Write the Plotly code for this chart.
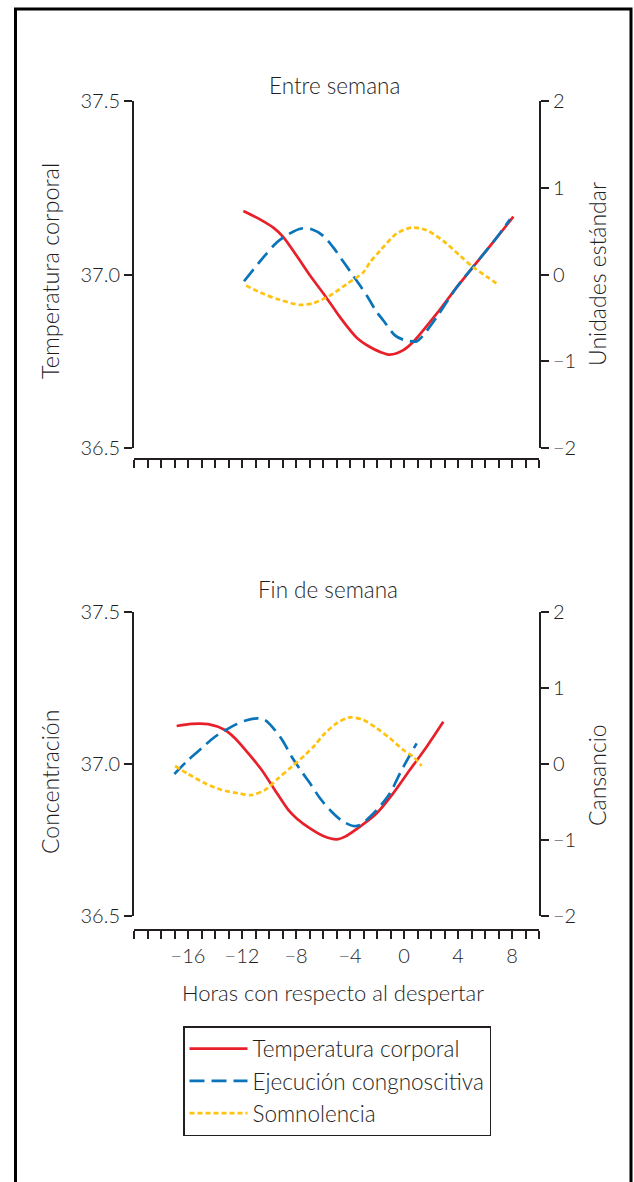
import plotly.graph_objects as go

# ---------------- data ----------------
hour_ticks = list(range(-20, 11))
hour_labels = ["−16", "−12", "−8", "−4", "0", "4", "8"]
hour_label_vals = [-16, -12, -8, -4, 0, 4, 8]
temp_ticks = [36.5, 37.0, 37.5]
temp_labels = ["36.5", "37.0", "37.5"]
unit_ticks = [-2, -1, 0, 1, 2]

series_names = ["Temperatura corporal", "Ejecución congnoscitiva", "Somnolencia"]

# Entre semana (weekday)
top_temp_h = [-11.9, -10.67, -9.68, -8.94, -7.95, -6.96, -5.85, -4.74, -3.50, -2.52, -1.78, -1.04, -0.05, 0.69, 2.42, 3.90, 5.39, 6.87, 8.10]
top_temp = [37.183, 37.159, 37.135, 37.108, 37.054, 36.997, 36.939, 36.877, 36.818, 36.791, 36.777, 36.769, 36.782, 36.806, 36.887, 36.963, 37.035, 37.106, 37.167]

top_cog_h = [-11.85, -10.42, -9.43, -8.57, -7.58, -6.84, -5.98, -5.24, -4.37, -3.76, -2.76, -2.02, -1.53, -0.67, -0.05, 0.94, 1.31, 2.42, 3.90, 5.39, 6.87, 7.85]
top_cog = [-0.078, 0.197, 0.369, 0.464, 0.530, 0.521, 0.445, 0.312, 0.120, -0.014, -0.243, -0.433, -0.530, -0.702, -0.752, -0.771, -0.721, -0.492, -0.147, 0.140, 0.426, 0.636]

top_sleep_h = [-11.70, -10.42, -9.19, -7.70, -6.72, -5.48, -4.24, -3.01, -2.52, -1.78, -0.54, 0.57, 1.68, 2.91, 4.15, 5.13, 6.13, 6.99]
top_sleep = [-0.128, -0.223, -0.292, -0.350, -0.330, -0.243, -0.109, 0.025, 0.140, 0.273, 0.472, 0.541, 0.510, 0.387, 0.216, 0.083, -0.025, -0.117]

# Fin de semana (weekend)
bot_temp_h = [-16.84, -15.73, -14.50, -13.26, -12.52, -11.53, -10.54, -9.56, -8.57, -7.95, -6.96, -5.98, -4.99, -4.37, -3.26, -2.02, -0.79, 0.44, 1.68, 2.91]
bot_temp = [37.125, 37.132, 37.131, 37.112, 37.085, 37.035, 36.980, 36.914, 36.849, 36.821, 36.788, 36.763, 36.752, 36.761, 36.794, 36.838, 36.904, 36.981, 37.057, 37.139]

bot_cog_h = [-17.01, -15.98, -14.99, -14.00, -12.76, -11.78, -10.79, -10.30, -9.56, -8.94, -8.32, -7.58, -6.96, -6.22, -5.36, -4.61, -3.76, -3.26, -2.02, -1.04, -0.30, 0.44, 0.94]
bot_cog = [-0.132, 0.053, 0.207, 0.359, 0.491, 0.570, 0.601, 0.579, 0.447, 0.293, 0.096, -0.101, -0.254, -0.451, -0.628, -0.746, -0.816, -0.803, -0.605, -0.386, -0.122, 0.118, 0.272]

bot_sleep_h = [-16.96, -15.98, -14.74, -13.50, -12.27, -11.28, -10.30, -9.31, -8.32, -7.33, -6.59, -5.98, -4.99, -4.00, -3.01, -2.02, -1.04, -0.05, 0.69, 1.31]
bot_sleep = [-0.026, -0.132, -0.254, -0.342, -0.386, -0.408, -0.342, -0.188, -0.036, 0.118, 0.250, 0.382, 0.536, 0.614, 0.579, 0.470, 0.338, 0.184, 0.096, -0.026]

# ---------------- styling ----------------
W, H = 634, 1182
FONT = "Lato"
TXT = "#1e1e1e"
AX = "#231f20"
RED = "#e8202a"
BLUE = "#0a74ba"
YEL = "#ffc20e"


def px_x(p):
    return p / W


def px_y(p):
    return 1 - p / H


fig = go.Figure()

styles = [
    dict(color=RED, width=2.7, dash="solid"),
    dict(color=BLUE, width=2.7, dash="15px,7px"),
    dict(color=YEL, width=2.7, dash="5px,3px"),
]

panels = [
    ("x", "y", "y2", top_temp_h, top_temp, top_cog_h, top_cog, top_sleep_h, top_sleep, True),
    ("x2", "y3", "y4", bot_temp_h, bot_temp, bot_cog_h, bot_cog, bot_sleep_h, bot_sleep, False),
]

for xa, ya1, ya2, th, tv, ch, cv, sh, sv, leg in panels:
    fig.add_trace(go.Scatter(x=th, y=tv, xaxis=xa, yaxis=ya1, mode="lines",
                             line=dict(shape="spline", smoothing=0.8, **styles[0]),
                             name=series_names[0], showlegend=leg, legendrank=1))
    fig.add_trace(go.Scatter(x=ch, y=cv, xaxis=xa, yaxis=ya2, mode="lines",
                             line=dict(shape="spline", smoothing=0.8, **styles[1]),
                             name=series_names[1], showlegend=leg, legendrank=2))
    fig.add_trace(go.Scatter(x=sh, y=sv, xaxis=xa, yaxis=ya2, mode="lines",
                             line=dict(shape="spline", smoothing=0.8, **styles[2]),
                             name=series_names[2], showlegend=leg, legendrank=3))

xdom = [px_x(134), px_x(539)]
top_dom = [px_y(448), px_y(101)]
bot_dom = [px_y(916), px_y(612)]

tick_font = dict(family=FONT, size=20, color=TXT, weight=300)
common_x = dict(range=[-20, 10], domain=xdom, showgrid=False, zeroline=False,
                showline=True, linecolor=AX, linewidth=2, ticks="outside",
                ticklen=8, tickwidth=2, tickcolor=AX, tickfont=tick_font,
                tickmode="array", tickvals=hour_ticks, anchor="free",
                fixedrange=True, automargin=False)

lab_map = dict(zip(hour_label_vals, hour_labels))
bottom_text = [lab_map.get(v, "") for v in hour_ticks]

common_y = dict(showgrid=False, zeroline=False, showline=True, linecolor=AX, linewidth=2,
                ticks="outside", ticklen=8, tickwidth=2, tickcolor=AX, tickmode="array",
                tickfont=tick_font, automargin=False, fixedrange=True)

fig.update_layout(
    xaxis=dict(**common_x, position=px_y(459), showticklabels=False),
    xaxis2=dict(**common_x, position=px_y(930), ticktext=bottom_text, showticklabels=True),
    yaxis=dict(**common_y, domain=top_dom, range=[36.5, 37.5], anchor="x",
               tickvals=temp_ticks, ticktext=temp_labels),
    yaxis2=dict(**common_y, domain=top_dom, range=[-2, 2], anchor="x", overlaying="y",
                side="right", tickvals=unit_ticks),
    yaxis3=dict(**common_y, domain=bot_dom, range=[36.5, 37.5], anchor="x2",
                tickvals=temp_ticks, ticktext=temp_labels),
    yaxis4=dict(**common_y, domain=bot_dom, range=[-2, 2], anchor="x2", overlaying="y3",
                side="right", tickvals=unit_ticks),
)

annotations = [
    dict(text="Entre semana", x=px_x(334), y=px_y(86), size=22.5),
    dict(text="Fin de semana", x=px_x(328), y=px_y(589), size=22.5),
    dict(text="Horas con respecto al despertar", x=px_x(333), y=px_y(992), size=22),
    dict(text="Temperatura corporal", x=px_x(50), y=px_y(271), textangle=-90, size=23.5),
    dict(text="Unidades estándar", x=px_x(597), y=px_y(274), textangle=-90, size=23),
    dict(text="Concentración", x=px_x(50), y=px_y(782), textangle=-90, size=23),
    dict(text="Cansancio", x=px_x(597), y=px_y(775), textangle=-90, size=23),
]
for a in annotations:
    s = a.pop("size")
    a.update(xref="paper", yref="paper", showarrow=False,
             font=dict(family=FONT, size=s, color=TXT, weight=300),
             xanchor="center", yanchor="middle")

fig.update_layout(
    annotations=annotations,
    width=W, height=H, autosize=False,
    margin=dict(l=0, r=0, t=0, b=0, pad=0),
    paper_bgcolor="white", plot_bgcolor="white",
    font=dict(family=FONT, color=TXT, weight=300),
    showlegend=True,
    legend=dict(x=px_x(183), y=px_y(1026), xanchor="left", yanchor="top",
                bordercolor=AX, borderwidth=1.5, bgcolor="white",
                font=dict(family=FONT, size=22.5, color=TXT, weight=300),
                tracegroupgap=0, itemwidth=58, traceorder="normal"),
    shapes=[dict(type="rect", xref="paper", yref="paper",
                 x0=px_x(15.5), x1=px_x(631), y0=px_y(1195), y1=px_y(9),
                 line=dict(color="black", width=3), fillcolor="rgba(0,0,0,0)",
                 layer="above")],
)

fig.write_html("out.html", config={"displayModeBar": False},
               post_script="document.body.style.margin='0px';")
